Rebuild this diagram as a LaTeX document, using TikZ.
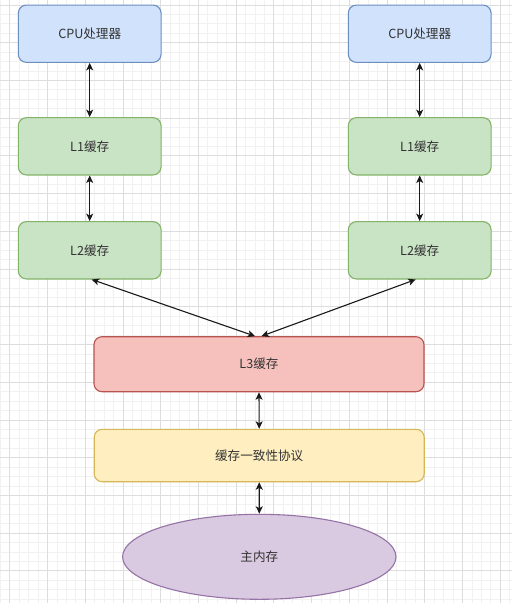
\documentclass[tikz,border=0pt]{standalone}
\usepackage{fontspec}
\newfontfamily\cjk{Noto Sans CJK SC}
\usepackage{xcolor}
\usepackage{tikz}
\usetikzlibrary{shapes.geometric, arrows.meta}
\definecolor{cpufill}{HTML}{D0E2FC}
\definecolor{cpuline}{HTML}{6C8EBF}
\definecolor{cachefill}{HTML}{C9E3C5}
\definecolor{cacheline}{HTML}{82B366}
\definecolor{llcfill}{HTML}{F6C1BD}
\definecolor{llcline}{HTML}{B85450}
\definecolor{cohfill}{HTML}{FFEFC0}
\definecolor{cohline}{HTML}{D6B656}
\definecolor{memfill}{HTML}{D9C9E1}
\definecolor{memline}{HTML}{9673A6}
\definecolor{minorgrid}{HTML}{F1F1F1}
\definecolor{majorgrid}{HTML}{DDDDDD}
\begin{document}
\begin{tikzpicture}[
    x=1pt, y=-1pt,
    font=\cjk\fontsize{12.6}{14}\selectfont,
    box/.style={rounded corners=8pt, draw=#1line, fill=#1fill, line width=1.1pt,
        minimum width=142.7pt, minimum height=57.3pt, inner sep=0pt,
        align=center, text=black!80},
    wide/.style={box=#1, minimum width=330pt},
    mem/.style={ellipse, draw=#1line, fill=#1fill, line width=1.1pt,
        minimum width=273.4pt, minimum height=85pt, inner sep=0pt, text=black!80},
    arr/.style={{Stealth[length=7.5pt,width=7pt,inset=2pt]}-{Stealth[length=7.5pt,width=7pt,inset=2pt]},
        draw=black!90, line width=1.1pt},
  ]
  \fill[white] (0,0) rectangle (512,603);
  \useasboundingbox (0,0) rectangle (512,603);
  \foreach \i in {0,...,54} \draw[minorgrid, line width=0.8pt] (0.4+9.43*\i,0) -- (0.4+9.43*\i,603);
  \foreach \i in {0,...,63} \draw[minorgrid, line width=0.8pt] (0,5+9.43*\i) -- (512,5+9.43*\i);
  \foreach \i in {0,...,13} \draw[majorgrid, line width=0.8pt] (9.8+37.72*\i,0) -- (9.8+37.72*\i,603);
  \foreach \i in {0,...,15} \draw[majorgrid, line width=0.8pt] (0,5+37.72*\i) -- (512,5+37.72*\i);
  \node[box=cpu] (cpu1) at (89.7,33.7) {CPU处理器};
  \node[box=cpu] (cpu2) at (419.7,33.7) {CPU处理器};
  \node[box=cache] (l1a) at (89.7,146.3) {L1缓存};
  \draw[arr] (cpu1.south) -- (l1a.north);
  \node[box=cache] (l1b) at (419.7,146.3) {L1缓存};
  \draw[arr] (cpu2.south) -- (l1b.north);
  \node[box=cache] (l2a) at (89.7,250.3) {L2缓存};
  \draw[arr] (l1a.south) -- (l2a.north);
  \node[box=cache] (l2b) at (419.7,250.3) {L2缓存};
  \draw[arr] (l1b.south) -- (l2b.north);
  \node[wide=llc, minimum height=55pt] (l3) at (259,364.2) {L3缓存};
  \draw[arr] ([xshift=2pt]l2a.south) -- ([xshift=-4pt]l3.north);
  \draw[arr] ([xshift=-4pt]l2b.south) -- ([xshift=2.5pt]l3.north);
  \node[wide=coh, minimum height=52.4pt] (coh) at (259.2,455.5) {缓存一致性协议};
  \draw[arr] (l3.south) -- (coh.north);
  \node[mem=mem] (ram) at (259.3,556.8) {主内存};
  \draw[arr] (coh.south) -- (ram.north);
  \end{tikzpicture}
\end{document}
